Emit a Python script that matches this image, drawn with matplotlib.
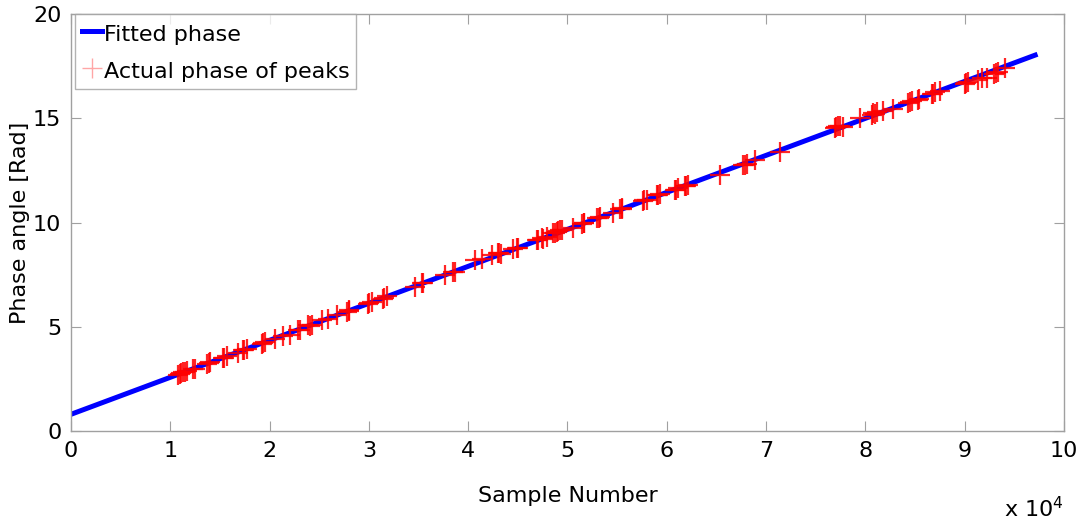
# phase_fit.py
# Fitted phase line vs. measured peak phases.

import numpy as np
import matplotlib.pyplot as plt

# fitted line end points (sample number, rad)
fit_x = [0, 97100]
fit_y = [0.80, 18.03]

peak_x = [10800, 10950, 11100, 11300, 11450, 11700, 12300, 12450,
          13700, 13850, 14000, 15300, 15450, 15700,
          16800, 17300, 17450, 17700, 19200, 19350, 19500,
          20500, 21300, 22100, 22900, 23050, 23900, 24050, 24300,
          25300, 25900, 26800, 27800, 27950, 28000,
          29900, 30050, 30300, 31400, 31550, 31800,
          34600, 35300, 35450, 37700, 38500, 38650,
          40700, 41400, 42400, 43000, 43150, 43300,
          44500, 44900, 45000, 46900, 47050, 47400, 47550, 47900,
          48500, 48700, 48900, 49000, 49200, 49400, 50600,
          51500, 51650, 51700, 53000, 53150, 53300,
          54600, 55300, 55450, 55500, 57600, 57750, 58000,
          59000, 59150, 59300, 60800, 60950, 61100,
          61800, 61950, 62100, 65400, 67700, 67850, 68100,
          68900, 71400, 76900, 77050, 77200, 77400, 77700, 79500,
          80700, 80800, 80950, 81200, 81800, 82800,
          84300, 84450, 84700, 85300, 85450,
          86700, 86850, 87000, 87500, 90000, 90150, 90300,
          91300, 91700, 92200, 93000, 93150, 93400, 94100]
peak_y = [2.70, 2.74, 2.78, 2.83, 2.82, 2.86, 2.99, 2.97,
          3.20, 3.24, 3.30, 3.48, 3.50, 3.60,
          3.75, 3.90, 3.88, 3.95, 4.18, 4.20, 4.27,
          4.42, 4.55, 4.62, 4.85, 4.86, 5.06, 5.02, 5.10,
          5.30, 5.38, 5.55, 5.70, 5.74, 5.78,
          6.10, 6.14, 6.20, 6.35, 6.40, 6.46,
          6.90, 7.08, 7.10, 7.50, 7.62, 7.64,
          8.20, 8.25, 8.45, 8.55, 8.52, 8.50,
          8.75, 8.80, 8.78, 9.15, 9.18, 9.25, 9.22, 9.30,
          9.50, 9.52, 9.55, 9.60, 9.62, 9.65, 9.72,
          9.95, 10.00, 9.98, 10.20, 10.22, 10.28,
          10.48, 10.65, 10.66, 10.70, 11.05, 11.06, 11.10,
          11.30, 11.32, 11.35, 11.55, 11.58, 11.65,
          11.75, 11.76, 11.80, 12.30, 12.75, 12.78, 12.80,
          13.00, 13.40, 14.55, 14.58, 14.62, 14.65, 14.60, 15.00,
          15.15, 15.25, 15.22, 15.30, 15.35, 15.45,
          15.75, 15.78, 15.85, 15.90, 15.92,
          16.15, 16.18, 16.25, 16.30, 16.65, 16.70, 16.75,
          16.85, 16.95, 16.95, 17.10, 17.15, 17.20, 17.40]

xticks = [0, 10000, 20000, 30000, 40000, 50000, 60000, 70000, 80000, 90000, 100000]
xtick_labels = ["0", "1", "2", "3", "4", "5", "6", "7", "8", "9", "10"]
yticks = [0, 5, 10, 15, 20]

fig = plt.figure(figsize=(10.86, 5.2), dpi=100)
ax = fig.add_axes([0.0654, 0.1712, 0.9143, 0.8018])

# faint vertical trace at x = 0 (as in the original figure)
ax.plot([0, 0], [0, 20], color="#b8e6b0", lw=1.2, zorder=1)

ax.plot(fit_x, fit_y, color="#0000ff", lw=3.6, label="Fitted phase", zorder=2)
ax.plot(peak_x, peak_y, linestyle="none", marker="+", markersize=15,
        markeredgewidth=1.6, color="red", alpha=0.85,
        label="Actual phase of peaks", zorder=3)

ax.set_xlim(0, 100000)
ax.set_ylim(0, 20)
ax.set_xticks(xticks)
ax.set_xticklabels(xtick_labels)
ax.set_yticks(yticks)

ax.tick_params(direction="in", length=7, color="#a0a0a0", labelsize=16,
               top=True, right=True, pad=7)
for sp in ax.spines.values():
    sp.set_color("#a0a0a0")
    sp.set_linewidth(1.0)

ax.set_xlabel("Sample Number", fontsize=16, labelpad=18)
ax.set_ylabel("Phase angle [Rad]", fontsize=16, labelpad=2)

ax.text(1.0, -0.185, r"x 10$^{4}$", transform=ax.transAxes,
        ha="right", va="center", fontsize=16)

leg = ax.legend(loc="upper left", fontsize=16, frameon=True, fancybox=False,
                borderaxespad=0.0, handlelength=0.9, handletextpad=0.1,
                handleheight=1.35, borderpad=0.3, labelspacing=0.55,
                bbox_to_anchor=(0.004, 1.0))
leg.get_frame().set_edgecolor("#a0a0a0")
leg.get_frame().set_linewidth(1.0)
leg.legend_handles[1].set_alpha(0.35)
leg.legend_handles[1].set_markeredgewidth(1.0)

fig.savefig("out.png", dpi=100)
